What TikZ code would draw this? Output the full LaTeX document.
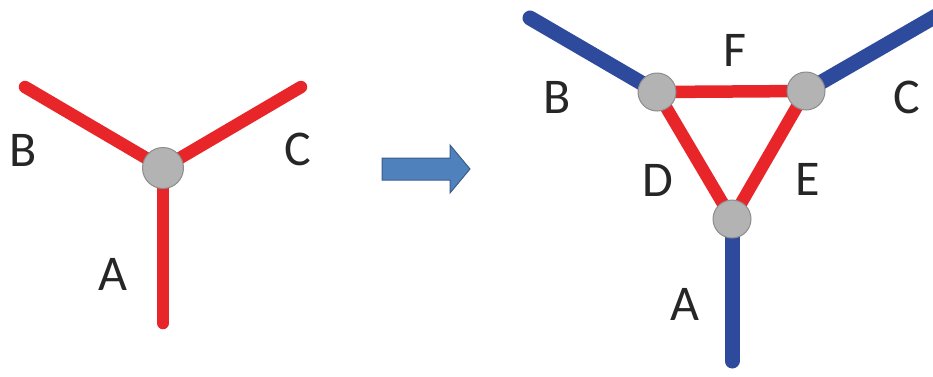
\documentclass[tikz,border=0pt]{standalone}
\usepackage{fontspec}
\setmainfont{Carlito}
\usetikzlibrary{backgrounds}
\definecolor{edgered}{HTML}{E8262A}
\definecolor{edgeblue}{HTML}{2E4A9C}
\definecolor{jointgray}{HTML}{B3B3B3}
\definecolor{jointrim}{HTML}{8C8C8C}
\definecolor{arrowfill}{HTML}{4F81BD}
\definecolor{arrowrim}{HTML}{385D8A}
\tikzset{
  joint/.style={circle, fill=jointgray, draw=jointrim, line width=1pt, minimum size=38pt, inner sep=0pt},
  redbar/.style={draw=edgered, line width=12.5pt, line cap=round},
  bluebar/.style={draw=edgeblue, line width=15pt, line cap=round},
  lbl/.style={font=\fontsize{50}{60}\selectfont, inner sep=0pt, text=black!85},
  blockarrow/.style={fill=arrowfill, draw=arrowrim, line width=1pt},
}
\begin{document}
\begin{tikzpicture}[x=1pt, y=-1pt]
  \useasboundingbox (0,0) rectangle (933,376);

  % --- single junction ---
  \node[joint, minimum size=41pt] (hub) at (163,168) {};
  \coordinate (hubB) at (25,87);
  \coordinate (hubC) at (301,87);
  \coordinate (hubA) at (163,323);
  \begin{scope}[on background layer]
    \draw[redbar] (hub.center) -- (hubB);
    \draw[redbar] (hub.center) -- (hubC);
    \draw[redbar] (hub.center) -- (hubA);
  \end{scope}
  \node[lbl] (labB) at (23,150) {B};
  \node[lbl] (labC) at (298,149) {C};
  \node[lbl] (labA) at (113,274) {A};

  % --- block arrow ---
  \filldraw[blockarrow]
    (382,158) -- (450,158) -- (450,145) -- (470,169) -- (450,193) -- (450,180) -- (382,180) -- cycle;

  % --- delta of three junctions ---
  \node[joint] (jB) at (657,92) {};
  \node[joint] (jC) at (806,91) {};
  \node[joint] (jA) at (732,219) {};
  \coordinate (endB) at (530,18);
  \coordinate (endC) at (936,16);
  \coordinate (endA) at (732,361);
  \begin{scope}[on background layer]
    \draw[redbar] (jB.center) -- (jC.center);
    \draw[redbar] (jB.center) -- (jA.center);
    \draw[redbar] (jC.center) -- (jA.center);
    \draw[bluebar] (jB.center) -- (endB);
    \draw[bluebar] (jC.center) -- (endC);
    \draw[bluebar] (jA.center) -- (endA);
  \end{scope}
  \node[lbl] (labF) at (735,50) {F};
  \node[lbl] (labB2) at (557,97) {B};
  \node[lbl] (labC2) at (907,97) {C};
  \node[lbl] (labD) at (658,180) {D};
  \node[lbl] (labE) at (808,179) {E};
  \node[lbl] (labA2) at (685,304) {A};
\end{tikzpicture}
\end{document}
